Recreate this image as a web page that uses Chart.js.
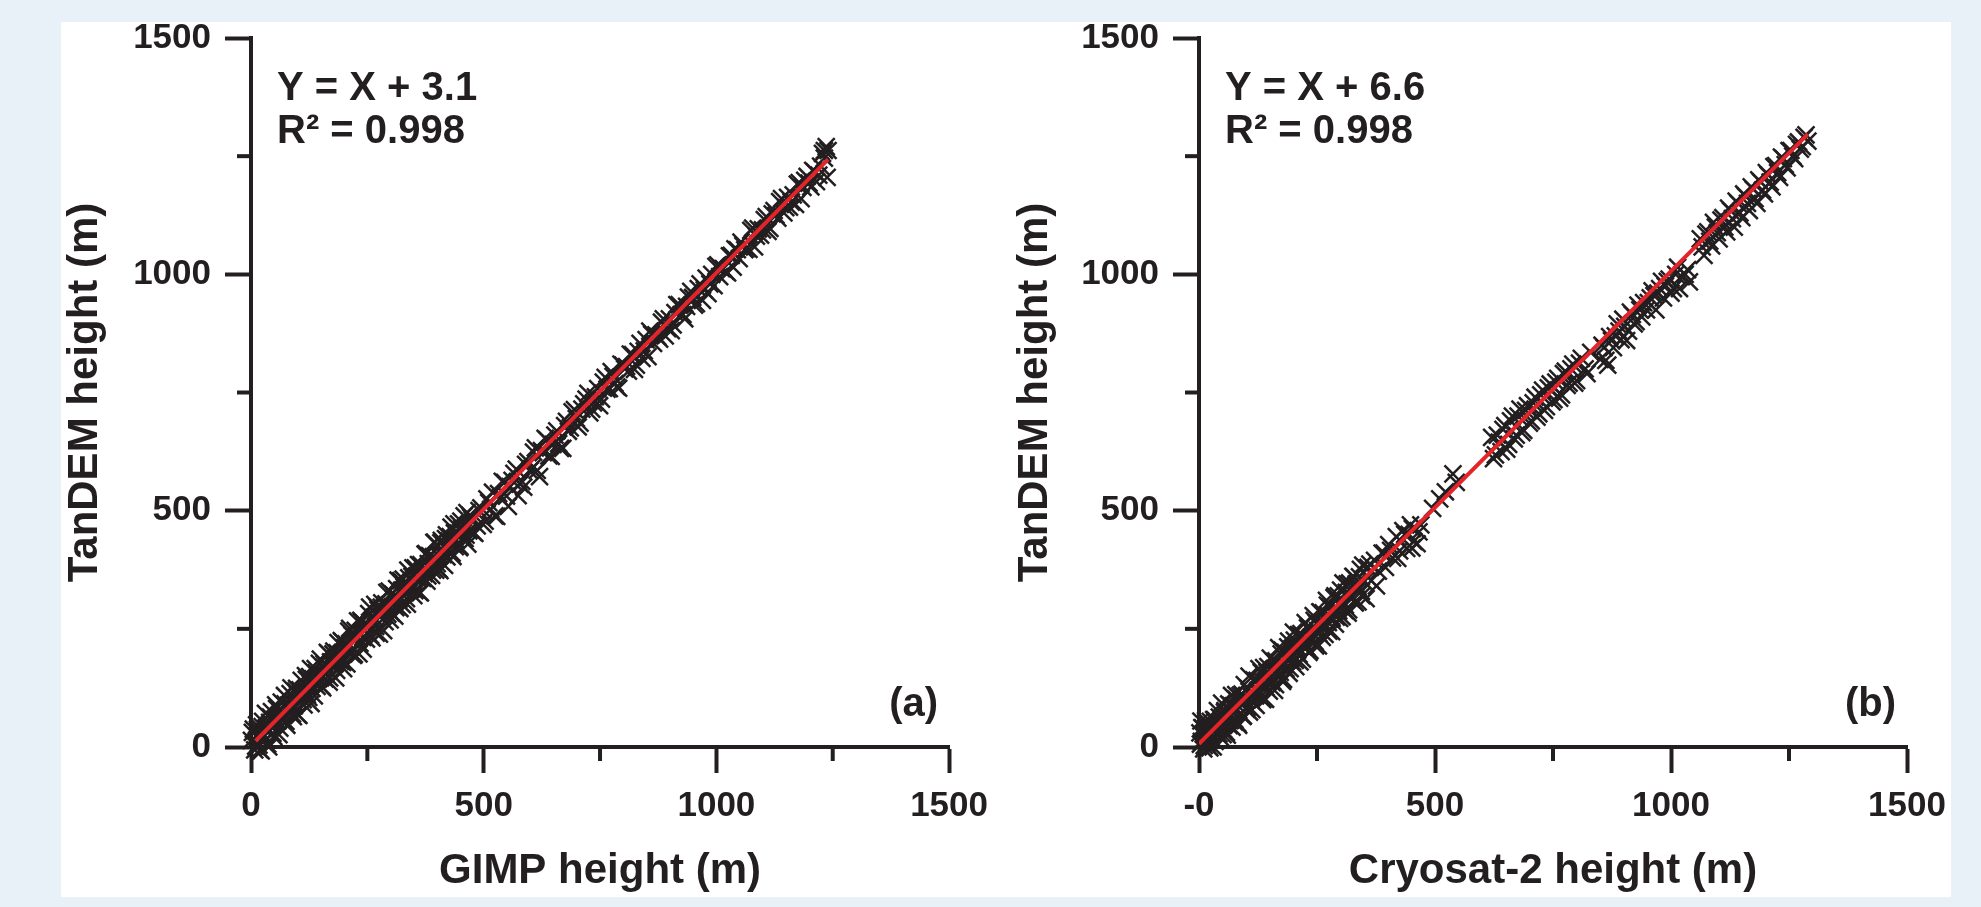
<!DOCTYPE html>
<html><head><meta charset="utf-8">
<script src="https://cdn.jsdelivr.net/npm/chart.js@4.4.1/dist/chart.umd.min.js"></script>
<style>
html,body{margin:0;padding:0;background:#e8f0f8;width:1981px;height:907px;overflow:hidden;}
#panel{position:absolute;left:61px;top:22px;width:1890px;height:875px;background:#ffffff;}
#c1{position:absolute;left:0;top:0;width:1000px;height:907px;}
#c2{position:absolute;left:1000px;top:0;width:981px;height:907px;}
</style></head><body>
<div id="panel"></div>
<canvas id="c1" width="1000" height="907"></canvas>
<canvas id="c2" width="981" height="907"></canvas>
<script>
// ---------- DATA ----------
const majorTicks = [0, 500, 1000, 1500];
const xTitles = ['GIMP height (m)', 'Cryosat-2 height (m)'];
const yTitle = 'TanDEM height (m)';
const equations = ['Y = X + 3.1', 'Y = X + 6.6'];
const r2Labels = ['R\u00B2 = 0.998', 'R\u00B2 = 0.998'];
const panelLabels = ['(a)', '(b)'];

// Panel (a): GIMP height vs TanDEM height
const gimpHeight = [22,3,8,12,15,19,24,27,31,36,40,44,47,52,55,60,63,68,72,75,80,84,88,91,96,100,103,108,112,116,119,124,128,131,136,140,144,147,152,156,159,164,168,171,176,180,184,187,192,196,199,204,208,212,215,220,224,227,232,236,240,243,248,252,255,260,264,268,271,276,280,283,288,292,296,299,304,308,311,316,320,324,327,332,336,339,344,348,352,355,360,364,367,372,376,380,383,388,392,395,400,404,408,411,416,420,423,428,432,436,439,444,448,451,456,460,464,468,472,478,
486,494,503,511,519,528,536,545,553,561,570,578,586,595,603,611,620,628,636,645,653,661,670,678,686,695,703,711,720,728,736,745,753,761,770,778,786,795,803,811,820,828,836,845,853,861,870,878,886,895,903,911,920,928,936,945,953,961,970,978,986,995,1003,1011,1020,1028,1036,1045,1053,1061,1070,1078,1086,1095,1103,1111,1120,1128,1136,1145,1153,1161,1170,1178,1186,1195,1203,1211,1220,1228,1236,1240,1238,1232,
1,5,10,14,17,21,25,29,33,38,42,45,49,53,58,62,65,70,73,77,82,86,89,93,98,101,105,110,114,117,121,126,129,133,138,142,145,149,154,157,161,166,169,173,178,182,185,189,194,197,201,206,210,213,217,222,225,229,234,238,241,245,250,253,257,262,266,269,273,278,281,285,290,294,297,301,306,309,313,318,322,325,329,334,337,341,346,350,353,357,362,365,369,374,378,381,385,390,393,397,402,406,409,413,418,421,425,430,434,437,441,446,449,453,458,462,466,470,475,481,
490,499,507,515,524,532,540,549,557,565,574,582,590,599,607,615,624,632,640,649,657,665,674,682,690,699,707,715,724,732,740,749,757,765,774,782,790,799,807,815,824,832,840,849,857,865,874,882,890,899,907,915,924,932,940,949,957,965,974,982,990,999,1007,1015,1024,1032,1040,1049,1057,1065,1074,1082,1090,1099,1107,1115,1124,1132,1140,1149,1157,1165,1174,1182,1190,1199,1207,1215,1224,1232];
const tandemHeightA = [-8,31,-6,47,21,-6,43,21,71,6,52,75,29,55,81,26,78,59,109,54,88,113,85,64,118,111,67,141,100,120,143,105,166,124,108,157,146,177,128,169,144,200,137,180,197,176,162,221,181,223,166,218,209,251,198,194,247,234,197,268,232,261,228,257,296,231,274,255,296,239,296,286,265,327,290,269,324,320,295,353,293,332,355,330,302,358,334,379,331,361,386,326,382,367,409,362,405,363,403,433,388,376,432,415,384,449,415,445,410,472,424,453,422,478,453,441,496,457,486,454,
468,506,478,517,539,488,527,560,509,564,588,556,550,604,589,633,572,623,650,615,660,642,632,689,675,714,677,715,736,707,728,758,736,782,758,784,762,810,800,795,830,808,854,838,826,873,872,863,906,885,881,919,936,915,932,964,935,970,945,992,980,976,1020,1012,1006,1039,1015,1052,1068,1052,1053,1098,1081,1083,1116,1091,1128,1125,1154,1130,1163,1153,1148,1194,1184,1207,1185,1217,1210,1256,1270,1262,1205,1246,
14,38,2,38,4,31,54,13,37,0,63,58,22,89,55,40,95,58,91,46,89,125,70,87,124,68,121,111,89,151,111,149,92,144,166,128,144,186,125,176,154,198,146,179,203,146,199,185,225,179,210,176,245,202,237,196,227,267,219,265,207,257,241,282,236,267,302,241,290,276,305,246,303,281,330,284,314,277,335,313,352,301,339,314,374,333,361,320,379,360,327,386,357,408,351,388,404,374,433,374,406,373,437,407,441,402,436,465,403,453,438,472,424,462,489,448,429,490,481,452,
500,471,525,503,489,536,562,531,551,579,532,562,598,584,624,585,627,653,616,640,669,632,680,668,709,695,685,726,748,715,741,722,772,757,794,769,759,808,805,831,799,837,822,862,880,854,868,899,870,906,893,936,915,906,952,951,938,980,967,959,1000,1017,995,1012,1003,1040,1054,1033,1061,1055,1093,1058,1096,1094,1122,1097,1135,1119,1160,1141,1142,1168,1191,1160,1199,1193,1220,1196,1229,1262];

// Panel (b): Cryosat-2 height vs TanDEM height
const cryosatHeight = [-45,2,4,5,8,10,12,15,17,20,23,26,28,31,34,37,40,43,46,49,52,55,58,61,64,67,70,73,76,79,82,85,88,91,94,97,100,104,107,110,114,118,121,125,128,132,135,139,142,146,149,153,156,160,163,167,170,174,177,181,184,188,191,195,198,202,205,209,212,216,219,223,226,230,233,237,240,244,247,251,254,258,261,265,268,272,275,279,282,286,289,293,296,300,303,307,310,314,317,321,324,328,331,335,338,342,345,350,
358,365,372,380,388,395,402,410,418,425,432,440,448,455,462,470,495,510,522,538,545,
620,628,636,644,652,660,668,676,684,692,700,708,716,724,732,740,748,756,764,772,780,788,796,806,818,830,
850,858,866,874,882,890,898,906,914,922,930,938,952,960,968,976,984,992,1000,1010,1018,1035,1039,
1062,1070,1078,1086,1094,1102,1110,1118,1126,1134,1142,1150,1158,1166,1174,1182,1190,1198,1206,1214,1222,1230,1238,1246,1254,1262,1270,1278,1286,1290,
3,6,9,11,14,18,21,24,27,30,33,36,39,42,45,48,51,54,57,60,63,66,69,72,75,78,81,84,87,90,93,96,99,102,106,109,112,116,120,123,127,130,134,137,141,144,148,151,155,158,162,165,169,172,176,179,183,186,190,193,197,200,204,207,211,214,218,221,225,228,232,235,239,242,246,249,253,256,260,263,267,270,274,277,281,284,288,291,295,298,302,305,309,312,316,319,323,326,330,333,337,340,344,347,354,362,376,392,406,421,436,451,
445,452,466,
624,632,640,648,656,664,672,680,688,696,704,712,720,728,736,744,752,760,768,776,784,792,800,810,822,
854,862,870,878,886,894,902,910,918,926,934,942,948,956,964,972,980,988,996,1005,1014,1022,1030,
1066,1074,1082,1090,1098,1106,1114,1122,1130,1138,1146,1154,1162,1170,1178,1186,1194,1202,1210,1218,1226,1234,1242,1250,1258,1266,1274,1282];
const tandemHeightB = [0,30,55,12,40,-4,25,48,8,33,-2,44,18,58,12,40,28,63,20,51,37,77,31,60,45,88,42,72,58,101,50,85,70,112,66,98,80,124,74,108,95,140,88,120,112,158,100,132,126,170,118,150,139,120,182,160,148,197,139,175,166,212,156,188,180,226,170,205,196,240,186,220,212,252,200,232,228,268,214,246,240,285,232,262,256,300,245,276,272,316,260,292,288,332,276,305,300,345,290,318,316,360,305,336,332,376,320,350,
380,352,395,372,410,380,428,400,445,415,458,420,470,435,430,470,505,525,540,578,560,
655,618,645,672,630,690,652,700,665,712,685,728,698,745,712,760,730,772,738,790,765,800,770,812,800,835,
820,845,808,860,870,880,905,860,920,895,935,910,940,965,925,970,950,985,960,1000,970,1010,984,
1075,1040,1090,1060,1100,1075,1120,1090,1135,1100,1150,1120,1165,1135,1180,1150,1195,1170,1210,1185,1230,1205,1245,1225,1262,1245,1280,1270,1295,1282,
6,41,27,3,56,23,1,54,39,0,58,31,77,27,53,93,26,74,59,25,91,56,109,87,53,111,78,46,109,100,65,132,99,84,150,116,79,142,108,141,166,106,138,168,101,158,140,188,136,181,132,174,210,158,205,143,200,184,224,166,208,243,183,213,238,180,234,212,263,211,256,204,242,278,223,262,214,286,254,284,238,310,263,296,244,292,320,275,320,272,303,347,289,327,283,347,319,361,306,345,307,360,329,385,314,387,341,410,416,399,450,421,
450,462,455,
610,660,625,680,640,700,660,715,670,722,690,740,705,755,720,768,735,780,745,795,770,810,775,822,790,
850,818,868,845,895,862,890,880,915,900,925,940,925,950,955,960,985,975,990,970,1015,995,1000,
1058,1085,1070,1110,1088,1115,1100,1140,1118,1155,1130,1170,1150,1185,1160,1200,1178,1215,1195,1228,1215,1248,1232,1262,1250,1275,1265,1290];

// Regression lines (end points of fitted line)
const fitA_x = [10, 1240];
const fitA_y = [13.1, 1243.1];
const fitB_x = [0, 1290];
const fitB_y = [6.6, 1296.6];

// ---------- STYLE ----------
const INK = '#231f20';
const RED = '#e3242b';
const FONT = '"Liberation Sans", Arial, Helvetica, sans-serif';

function pts(xs, ys){ const n = Math.min(xs.length, ys.length); const out = []; for (let i = 0; i < n; i++) out.push({x: xs[i], y: ys[i]}); return out; }

const decorPlugin = {
  id: 'decor',
  afterDraw(chart, args, opts){
    const ctx = chart.ctx, ca = chart.chartArea;
    ctx.save();
    ctx.strokeStyle = INK; ctx.lineWidth = 4; ctx.lineCap = 'butt';
    const xs = chart.scales.x, ys = chart.scales.y;
    xs.ticks.forEach(t => {
      if (t.value % 500 !== 0) {
        const px = xs.getPixelForValue(t.value);
        ctx.beginPath(); ctx.moveTo(px, ca.bottom); ctx.lineTo(px, ca.bottom + 14); ctx.stroke();
      }
    });
    ys.ticks.forEach(t => {
      if (t.value % 500 !== 0) {
        const py = ys.getPixelForValue(t.value);
        ctx.beginPath(); ctx.moveTo(ca.left, py); ctx.lineTo(ca.left - 14, py); ctx.stroke();
      }
    });
    ctx.fillStyle = INK;
    ctx.font = 'bold 40px ' + FONT;
    ctx.textAlign = 'left'; ctx.textBaseline = 'alphabetic';
    ctx.fillText(opts.eq, ca.left + 26, ca.top + 62);
    ctx.fillText(opts.r2, ca.left + 26, ca.top + 105);
    ctx.textAlign = 'right';
    ctx.fillText(opts.label, ca.right - 11, ca.bottom - 31);
    ctx.restore();
  }
};

function makeChart(canvasId, idx, xData, yData, fx, fy, yWidth, padRight, yTitlePad, xZeroLabel){
  const tickFont = {family: FONT, size: 35, weight: 'bold'};
  const titleFont = {family: FONT, size: 42, weight: 'bold'};
  const tickColorFn = (c) => (c.tick && c.tick.value % 500 === 0) ? INK : 'rgba(0,0,0,0)';
  return new Chart(document.getElementById(canvasId), {
    type: 'scatter',
    data: {
      datasets: [
        { type: 'line', data: pts(fx, fy), borderColor: RED, borderWidth: 4, pointRadius: 0, fill: false, tension: 0 },
        { data: pts(xData, yData), pointStyle: 'crossRot', pointRadius: 12, borderColor: INK, backgroundColor: INK, borderWidth: 2.5, clip: false }
      ]
    },
    plugins: [decorPlugin],
    options: {
      responsive: false, animation: false, devicePixelRatio: 1,
      layout: { padding: { left: 0, top: 38, right: padRight, bottom: 0 } },
      plugins: { legend: {display: false}, tooltip: {enabled: false},
        decor: { eq: equations[idx], r2: r2Labels[idx], label: panelLabels[idx] } },
      scales: {
        x: {
          type: 'linear', min: 0, max: 1500,
          afterFit: (s) => { s.height = 160; },
          border: { display: true, color: INK, width: 4 },
          grid: { drawOnChartArea: false, drawTicks: true, tickLength: 26, tickWidth: 4, tickColor: tickColorFn },
          ticks: { stepSize: 250, autoSkip: false, maxRotation: 0, padding: 12, color: INK, font: tickFont,
            callback: (v) => majorTicks.includes(v) ? ((v === 0 && xZeroLabel) ? xZeroLabel : String(v)) : '' },
          title: { display: true, text: xTitles[idx], color: INK, font: titleFont, padding: {top: 0, bottom: 10} }
        },
        y: {
          type: 'linear', min: 0, max: 1500,
          afterFit: (s) => { s.width = yWidth; },
          border: { display: true, color: INK, width: 4 },
          grid: { drawOnChartArea: false, drawTicks: true, tickLength: 26, tickWidth: 4, tickColor: tickColorFn },
          ticks: { stepSize: 250, autoSkip: false, padding: 14, color: INK, font: tickFont,
            callback: (v) => majorTicks.includes(v) ? String(v) : '' },
          title: { display: true, text: yTitle, color: INK, font: titleFont, padding: {top: yTitlePad, bottom: 0} }
        }
      }
    }
  });
}

makeChart('c1', 0, gimpHeight, tandemHeightA, fitA_x, fitA_y, 251, 40, 60, null);
makeChart('c2', 1, cryosatHeight, tandemHeightB, fitB_x, fitB_y, 199, 74, 10, '-0');
</script>
</body></html>
